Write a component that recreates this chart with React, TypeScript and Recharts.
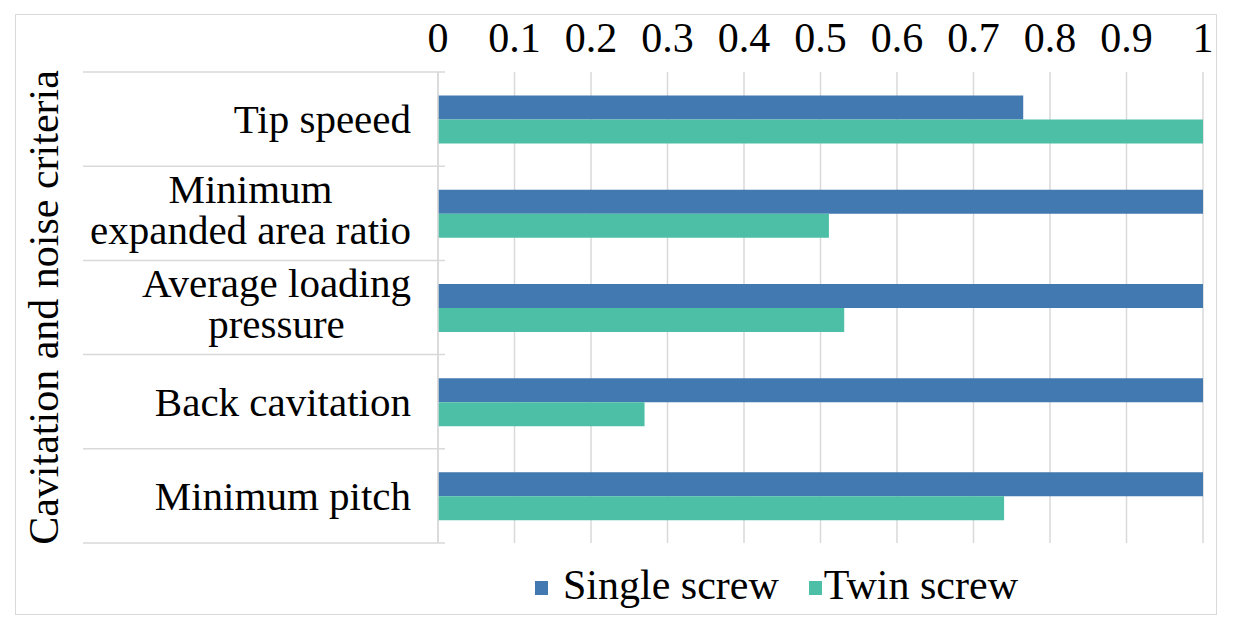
import React from 'react';
import { BarChart, Bar, XAxis, YAxis, CartesianGrid } from 'recharts';

// ---------- data ----------
const categories = [
  'Tip speeed',
  'Minimum\nexpanded area ratio',
  'Average loading\npressure',
  'Back cavitation',
  'Minimum pitch',
];
const singleScrew = [0.765, 1, 1, 1, 1];
const twinScrew = [1, 0.511, 0.531, 0.27, 0.74];
const xTicks = [0, 0.1, 0.2, 0.3, 0.4, 0.5, 0.6, 0.7, 0.8, 0.9, 1];
const seriesNames = ['Single screw', 'Twin screw'];
const axisTitle = 'Cavitation and noise criteria';

const data = categories.map((name, i) => ({
  name,
  single: singleScrew[i],
  twin: twinScrew[i],
}));

// ---------- layout / style ----------
const W = 1240;
const H = 630;
const FONT = '"Liberation Serif", "Times New Roman", serif';
const CAT_SIZE = 41;
const TICK_SIZE = 42;
const BLUE = '#4179B0';
const TEAL = '#4DBFA6';
const GRID = '#d9d9d9';

const X_AXIS_H = 40;
const M = { top: 72 - X_AXIS_H, right: 37, bottom: 87, left: 83 };
const Y_AXIS_W = 355;
const PLOT_TOP = 72;
const PLOT_BOTTOM = H - M.bottom;
const BAND = (PLOT_BOTTOM - PLOT_TOP) / categories.length;
const LABEL_RIGHT = 411;
const SEP_LEFT = 83;
const SEP_RIGHT = 445;

let ctx: CanvasRenderingContext2D | null = null;
function textWidth(s: string, size: number) {
  if (!ctx && typeof document !== 'undefined') {
    ctx = document.createElement('canvas').getContext('2d');
  }
  if (!ctx) return s.length * size * 0.45;
  ctx.font = `${size}px ${FONT}`;
  return ctx.measureText(s).width;
}

const CategoryTick = (props: any) => {
  const { y, payload, index } = props;
  const lines = String(payload.value).split('\n');
  const n = lines.length;
  const maxW = Math.max(...lines.map((l) => textWidth(l, CAT_SIZE)));
  const lh = 41;
  const off = n === 1 ? 14 : 10;
  const single = n === 1;
  return (
    <g>
      <line x1={SEP_LEFT} x2={SEP_RIGHT} y1={y - BAND / 2} y2={y - BAND / 2} stroke={GRID} strokeWidth={1.5} />
      {index === categories.length - 1 && (
        <line x1={SEP_LEFT} x2={SEP_RIGHT} y1={y + BAND / 2} y2={y + BAND / 2} stroke={GRID} strokeWidth={1.5} />
      )}
      {lines.map((l, i) => (
        <text
          key={i}
          x={single ? LABEL_RIGHT : LABEL_RIGHT - maxW / 2}
          y={y + off + (i - (n - 1) / 2) * lh}
          textAnchor={single ? 'end' : 'middle'}
          fontFamily={FONT}
          fontSize={CAT_SIZE}
          fill="#000"
        >
          {l}
        </text>
      ))}
    </g>
  );
};

const ValueTick = (props: any) => {
  const { x, payload } = props;
  return (
    <text x={x} y={52} textAnchor="middle" fontFamily={FONT} fontSize={TICK_SIZE} fill="#000">
      {String(payload.value)}
    </text>
  );
};

const LegendBlock = () => {
  const colors = [BLUE, TEAL];
  return (
    <div
      style={{
        position: 'absolute',
        left: 535,
        top: 561,
        display: 'flex',
        alignItems: 'center',
        fontFamily: FONT,
        fontSize: 42,
        color: '#000',
        lineHeight: '48px',
        whiteSpace: 'nowrap',
      }}
    >
      {seriesNames.map((s, i) => (
        <div key={s} style={{ display: 'flex', alignItems: 'center', marginRight: i === 0 ? 30 : 0 }}>
          <span
            style={{
              display: 'inline-block',
              width: 13,
              height: 14,
              marginTop: 6,
              background: colors[i],
              marginRight: i === 0 ? 15 : 2,
            }}
          />
          <span>{s}</span>
        </div>
      ))}
    </div>
  );
};

const TitleLabel = () => (
  <text
    x={58}
    y={(PLOT_TOP + PLOT_BOTTOM) / 2}
    transform={`rotate(-90, 58, ${(PLOT_TOP + PLOT_BOTTOM) / 2})`}
    textAnchor="middle"
    fontFamily={FONT}
    fontSize={42}
    fill="#000"
  >
    {axisTitle}
  </text>
);

export default function App() {
  return (
    <div style={{ position: 'absolute', left: 0, top: 0, width: W, height: H, background: '#fff' }}>
      <div
        style={{
          position: 'absolute',
          left: 15,
          top: 14,
          width: 1202,
          height: 601,
          border: `1.5px solid ${GRID}`,
          boxSizing: 'border-box',
          pointerEvents: 'none',
        }}
      />
      <div style={{ position: 'absolute', left: 0, top: 0 }}>
        <BarChart
          width={W}
          height={H}
          data={data}
          layout="vertical"
          margin={M}
          barCategoryGap="25%"
          barGap={0}
        >
          <CartesianGrid horizontal={false} vertical stroke={GRID} strokeWidth={1.5} />
          <XAxis
            type="number"
            orientation="top"
            domain={[0, 1]}
            ticks={xTicks}
            height={X_AXIS_H}
            axisLine={false}
            tickLine={false}
            tick={<ValueTick />}
            interval={0}
          />
          <YAxis
            type="category"
            dataKey="name"
            width={Y_AXIS_W}
            axisLine={{ stroke: GRID, strokeWidth: 1.5 }}
            tickLine={false}
            tick={<CategoryTick />}
            interval={0}
            label={<TitleLabel />}
          />
          <Bar dataKey="single" name={seriesNames[0]} fill={BLUE} isAnimationActive={false} />
          <Bar dataKey="twin" name={seriesNames[1]} fill={TEAL} isAnimationActive={false} />
        </BarChart>
      </div>
      <LegendBlock />
    </div>
  );
}
